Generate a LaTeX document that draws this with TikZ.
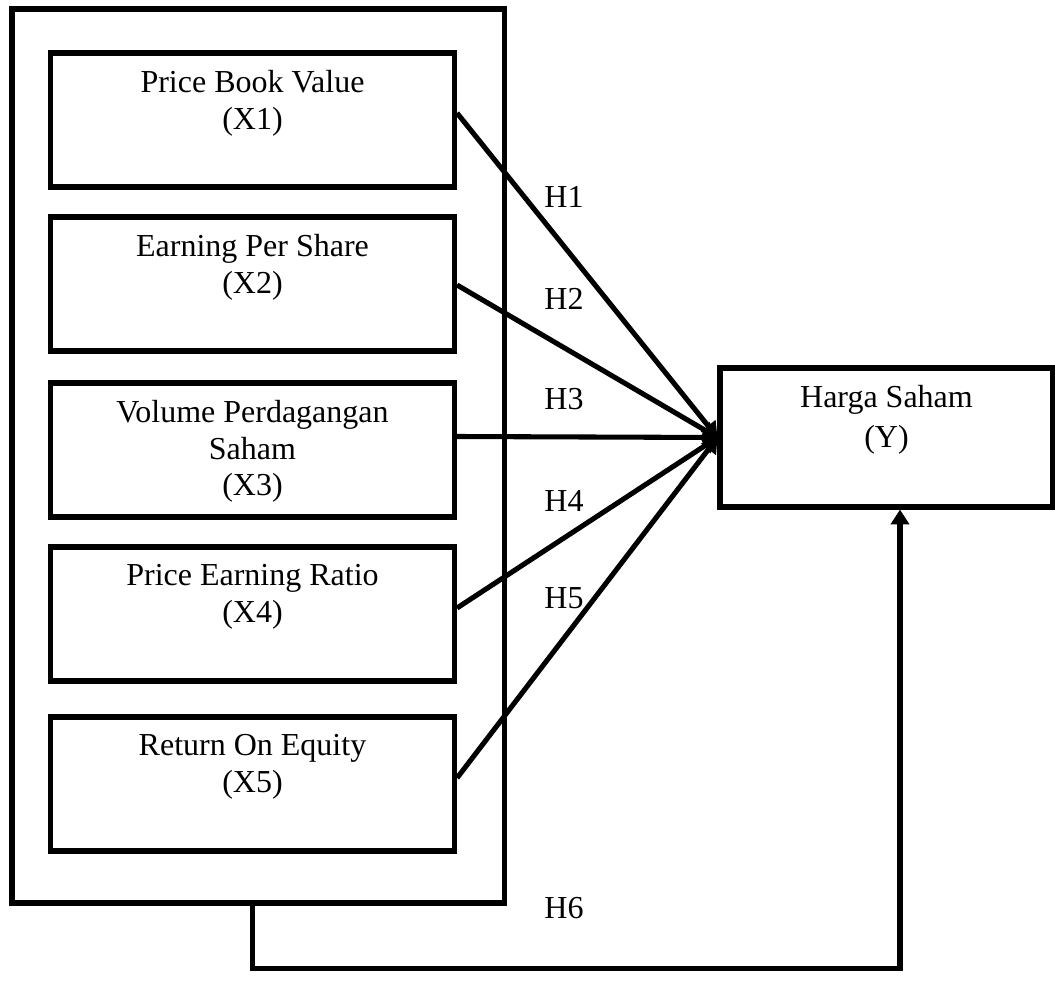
\documentclass[tikz,border=0pt]{standalone}
\usepackage{fontspec}
\setmainfont{Liberation Serif}
\usepackage{tikz}
\usetikzlibrary{arrows.meta,positioning}
\def\unitpx{0.375pt}

\begin{document}
\begin{tikzpicture}[x=\unitpx,y=-\unitpx,line width=1.9pt,font=\fontsize{12}{13.8}\selectfont]
    \tikzstyle{arrowline}=[-{Triangle[length=5.6pt,width=6.8pt]}]
    \tikzstyle{frame}=[draw,rectangle,inner sep=0pt]
    \tikzstyle{varbox}=[frame,minimum width=404*\unitpx,minimum height=134*\unitpx]
    \tikzstyle{boxtext}=[align=center,inner sep=0pt]
    \tikzstyle{hlabel}=[inner sep=0pt]

    \useasboundingbox (0,0) rectangle (1055,1006);

    % Draw the outer frame round the independent variables
    \node[frame,minimum width=492.5*\unitpx,minimum height=894*\unitpx] (outer) at (258.25,456) {};

    % Draw the independent variable boxes
    \foreach \name / \y / \txt in {1/120/{Price Book Value\\(X1)},
                                   2/284/{Earning Per Share\\(X2)},
                                   3/450/{Volume Perdagangan\\Saham\\(X3)},
                                   4/614/{Price Earning Ratio\\(X4)},
                                   5/784/{Return On Equity\\(X5)}}
    {
        \node[varbox] (X-\name) at (252.5,\y) {};
        \node[boxtext,below=6.4pt of X-\name.north] (T-\name) {\txt};
    }

    % Draw the dependent variable box
    \node[frame,minimum width=333*\unitpx,minimum height=139*\unitpx] (Y) at (886.5,437.5) {};
    \node[boxtext,below=6.5pt of Y.north,font=\fontsize{12}{15}\selectfont] (T-Y) {Harga Saham\\(Y)};

    % Connect every variable box with the dependent variable
    \foreach \name / \shift in {1/7,2/-1,3/13.5,4/6,5/6}
        \draw[arrowline] ([yshift=\shift*\unitpx]X-\name.east) -- (Y.west);

    % Connect the outer frame with the dependent variable
    \draw[arrowline] (X-5.south |- outer.south) -- ++(0,63) -| ([xshift=13.5*\unitpx]Y.south);

    % Annotate the hypotheses
    \foreach \name / \y in {1/197,2/299,3/399,4/501,5/598,6/908}
        \node[hlabel] (H-\name) at (564,\y) {H\name};
\end{tikzpicture}
\end{document}
